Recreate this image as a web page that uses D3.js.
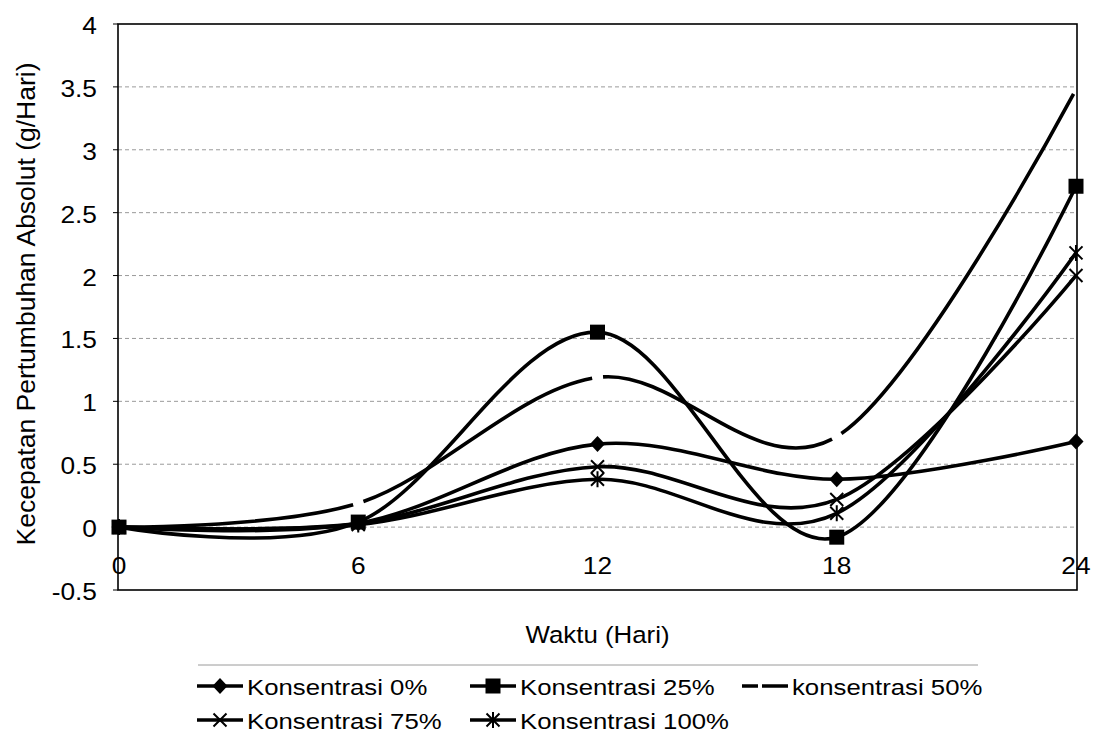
<!DOCTYPE html>
<html>
<head>
<meta charset="utf-8">
<script src="https://cdn.jsdelivr.net/npm/d3@7"></script>
<style>
    body { margin: 0; background: #fff; }
    svg text { font-family: "Liberation Sans", Arial, sans-serif; fill: #000; }
</style>
</head>
<body>
<svg id="chart" width="1093" height="736"></svg>
<script>

// values
var days = [0, 6, 12, 18, 24];
var konsentrasi0 = [0, 0.03, 0.66, 0.38, 0.68];
var konsentrasi25 = [0, 0.04, 1.55, -0.08, 2.71];
var konsentrasi50 = [0, 0.19, 1.19, 0.72, 3.48];
var konsentrasi75 = [0, 0.03, 0.48, 0.22, 2.0];
var konsentrasi100 = [0, 0.02, 0.38, 0.11, 2.18];

var seriesNames = ["Konsentrasi 0%", "Konsentrasi 25%", "konsentrasi 50%", "Konsentrasi 75%", "Konsentrasi 100%"];
var seriesMarkers = ["diamond", "square", "none", "cross", "star"];
var yTicks = [-0.5, 0, 0.5, 1, 1.5, 2, 2.5, 3, 3.5, 4];
var xTicks = [0, 6, 12, 18, 24];

var allSeries = [konsentrasi0, konsentrasi25, konsentrasi50, konsentrasi75, konsentrasi100];

var svg = d3.select("#chart");

var plot = {left: 118, right: 1077, top: 24, bottom: 590};

var xScale = d3.scaleLinear()
    .domain([0, 24])
    .range([119, 1076]);

var yScale = d3.scaleLinear()
    .domain([-0.5, 4])
    .range([plot.bottom, plot.top]);

// text in the scan is a bit wider than Arial, stretch it along the baseline
function stretchText(g, x, y, str, anchor, size, sx, rot) {
    return g.append("text")
        .attr("transform", "translate(" + x + "," + y + ")" + (rot ? " rotate(" + rot + ")" : "") + " scale(" + sx + ",1)")
        .attr("text-anchor", anchor)
        .style("font-size", size + "px")
        .text(str);
}

// gridlines
svg.append("g")
    .selectAll("line")
    .data(yTicks.filter(function (d) { return d > -0.5 && d < 4; }))
    .enter().append("line")
    .attr("x1", plot.left)
    .attr("x2", plot.right)
    .attr("y1", function (d) { return yScale(d); })
    .attr("y2", function (d) { return yScale(d); })
    .style("stroke", "#9a9a9a")
    .style("stroke-width", 1)
    .style("stroke-dasharray", "4,3");

// frame
svg.append("rect")
    .attr("x", plot.left)
    .attr("y", plot.top)
    .attr("width", plot.right - plot.left)
    .attr("height", plot.bottom - plot.top)
    .style("fill", "none")
    .style("stroke", "#000")
    .style("stroke-width", 1.6);

// y axis ticks + labels
var gY = svg.append("g");
gY.selectAll("line")
    .data(yTicks)
    .enter().append("line")
    .attr("x1", plot.left - 5)
    .attr("x2", plot.left)
    .attr("y1", function (d) { return yScale(d); })
    .attr("y2", function (d) { return yScale(d); })
    .style("stroke", "#000")
    .style("stroke-width", 1);

yTicks.forEach(function (d) {
    stretchText(gY, 97, yScale(d) + 10, String(d), "end", 23.5, 1.12);
});

// x labels sit under the zero line, inside the frame
var gX = svg.append("g");
xTicks.forEach(function (d) {
    stretchText(gX, xScale(d), 574, String(d), "middle", 23.5, 1.12);
});

// axis titles
stretchText(svg, 35, 304, "Kecepatan Pertumbuhan Absolut (g/Hari)", "middle", 25, 1.06, -90);
stretchText(svg, (plot.left + plot.right) / 2, 643, "Waktu (Hari)", "middle", 23.5, 1.1);

// smooth lines like excel
var line = d3.line()
    .x(function (d) { return xScale(d.x); })
    .y(function (d) { return yScale(d.y); })
    .curve(d3.curveCatmullRom.alpha(0));

function drawMarker(g, type, cx, cy) {
    if (type === "diamond") {
        g.append("path")
            .attr("d", "M" + cx + "," + (cy - 8) + "L" + (cx + 7.5) + "," + cy + "L" + cx + "," + (cy + 8) + "L" + (cx - 7.5) + "," + cy + "Z")
            .style("fill", "#000");
    } else if (type === "square") {
        g.append("rect")
            .attr("x", cx - 7.5)
            .attr("y", cy - 7.5)
            .attr("width", 15)
            .attr("height", 15)
            .style("fill", "#000");
    } else if (type === "cross" || type === "star") {
        var s = 6.5;
        var p = "M" + (cx - s) + "," + (cy - s) + "L" + (cx + s) + "," + (cy + s) +
            "M" + (cx - s) + "," + (cy + s) + "L" + (cx + s) + "," + (cy - s);
        if (type === "star") p += "M" + cx + "," + (cy - 8) + "L" + cx + "," + (cy + 8);
        g.append("path")
            .attr("d", p)
            .style("fill", "none")
            .style("stroke", "#000")
            .style("stroke-width", 2);
    }
}

var linesG = svg.append("g");

allSeries.forEach(function (values, i) {
    var pts = days.map(function (d, j) { return {x: d, y: values[j]}; });

    var path = linesG.append("path")
        .datum(pts)
        .attr("d", line)
        .style("fill", "none")
        .style("stroke", "#000")
        .style("stroke-width", 3.6)
        .style("stroke-linejoin", "round");

    if (seriesMarkers[i] === "none") {
        // dash breaks at every data point (each segment is drawn on its own in excel)
        var node = path.node();
        var total = node.getTotalLength();
        var lens = days.map(function (d) {
            var target = xScale(d), lo = 0, hi = total;
            for (var k = 0; k < 40; k++) {
                var mid = (lo + hi) / 2;
                if (node.getPointAtLength(mid).x < target) lo = mid; else hi = mid;
            }
            return (lo + hi) / 2;
        });
        var gap = 11, dash = [];
        for (var k = 1; k < lens.length; k++) {
            var seg = lens[k] - lens[k - 1] - (k === 1 ? gap / 2 : gap);
            dash.push(seg, gap);
        }
        path.style("stroke-dasharray", dash.join(","))
            .style("stroke-linecap", "butt");
    } else {
        pts.forEach(function (p) {
            drawMarker(linesG, seriesMarkers[i], xScale(p.x), yScale(p.y));
        });
    }
});

// legend
var legend = svg.append("g");
legend.append("line")
    .attr("x1", 198)
    .attr("x2", 978)
    .attr("y1", 665)
    .attr("y2", 665)
    .style("stroke", "#9a9a9a")
    .style("stroke-width", 1);

var legendPos = [
    {x: 197, y: 686},
    {x: 470, y: 686},
    {x: 742, y: 686},
    {x: 197, y: 720},
    {x: 470, y: 720}
];

seriesNames.forEach(function (name, i) {
    var p = legendPos[i];
    var l = legend.append("line")
        .attr("x1", p.x)
        .attr("x2", p.x + 46)
        .attr("y1", p.y)
        .attr("y2", p.y)
        .style("stroke", "#000")
        .style("stroke-width", 3.6);
    if (seriesMarkers[i] === "none") {
        l.style("stroke-dasharray", "16,4,40");
    } else {
        drawMarker(legend, seriesMarkers[i], p.x + 23, p.y);
    }
    stretchText(legend, p.x + 50, p.y + 9, name, "start", 23, 1.12);
});

</script>
</body>
</html>
